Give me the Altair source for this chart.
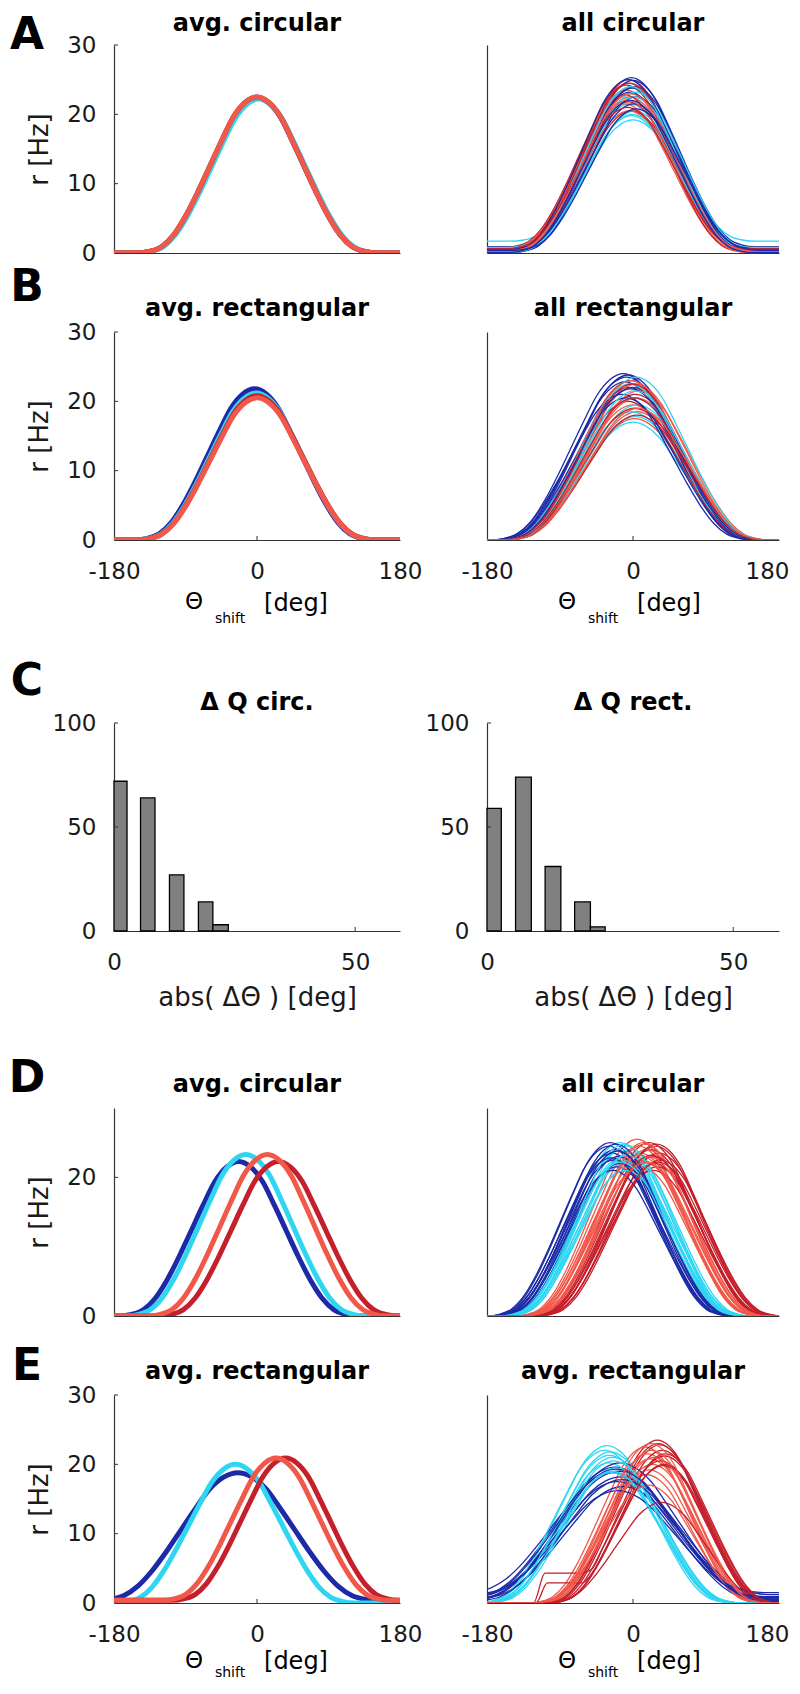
import altair as alt
import pandas as pd

FONT = "DejaVu Sans"
AXC = "#333333"

# ---------------- shared tuning-curve profile (avg.) -------------
TEMPLATE_OFFSETS = [0, 15, 30, 45, 60, 75, 90, 105, 120, 135, 150, 165, 180,
                    210, 240, 270, 300, 330, 360]
TEMPLATE_SHAPE = [1.0, 0.965, 0.87, 0.715, 0.55, 0.385, 0.235, 0.115, 0.04, 0.01, 0.0, 0.0, 0.0,
                  0.0, 0.0, 0.0, 0.0, 0.0, 0.0]
FLOOR_REACH = 150  # left-side plateaus (panel E, right) start this far from the peak

GROUPS = ["blue", "cyan", "darkred", "salmon"]
GROUP_COLORS = ["#1c2aa8", "#2fd6f2", "#c41f2b", "#f2584a"]

# ---------------- averaged curves (order: blue, cyan, darkred, salmon) --------------
A_AVG_CENTER = [0, 2, 0, 0]
A_AVG_PEAK = [22.4, 22.2, 22.5, 22.5]
B_AVG_CENTER = [-3, -1, 0, 0]
B_AVG_PEAK = [21.8, 21.2, 20.8, 20.5]
D_AVG_CENTER = [-23, -14, 27, 13]
D_AVG_PEAK = [22.3, 23.3, 22.3, 23.3]
E_AVG_CENTER = [-24, -27, 36, 24]
E_AVG_PEAK = [18.8, 20.0, 20.9, 20.9]
E_AVG_BASE = [0.3, 0.0, 0.4, 0.4]
E_AVG_WIDTH = [1.2, 1.0, 0.95, 0.95]

# ---------------- individual curves ---------------------------------------------------
A_ALL_BLUE_C = [-2, 0, 2, -4, 3, -6, 1, -1, 4, -3]
A_ALL_BLUE_A = [25.3, 24.9, 24.0, 23.2, 22.5, 25.0, 21.5, 23.8, 20.8, 22.0]
A_ALL_BLUE_B = [0.3, 0.9, 0.2, 0.5, 0.1, 0.3, 0.6, 0.2, 0.4, 0.1]
A_ALL_CYAN_C = [0, -2, 2, -4, 1, 3, -1, -3]
A_ALL_CYAN_A = [19.2, 19.8, 20.5, 21.5, 22.5, 23.2, 20.0, 24.0]
A_ALL_CYAN_B = [1.7, 0.4, 0.2, 0.8, 0.3, 0.5, 0.1, 0.2]
A_ALL_DRED_C = [-5, -8, -3, -6, -10, -2, -4, -7]
A_ALL_DRED_A = [25.0, 24.2, 23.0, 21.8, 22.8, 20.5, 24.5, 21.0]
A_ALL_DRED_B = [0.3, 0.8, 0.2, 0.5, 0.1, 0.4, 0.2, 0.6]
A_ALL_SALM_C = [-6, -8, -4, -10, -2, -5, -7, -3]
A_ALL_SALM_A = [24.5, 23.5, 22.5, 21.5, 24.0, 20.5, 22.0, 23.0]
A_ALL_SALM_B = [0.2, 0.6, 0.1, 0.3, 0.2, 0.4, 0.1, 0.3]

B_ALL_BLUE_C = [-12, -8, -10, -5, -14, -6, -9, -3]
B_ALL_BLUE_A = [24.0, 23.5, 22.8, 22.0, 21.0, 23.8, 20.5, 21.8]
B_ALL_CYAN_C = [0, 3, -2, 5, 1, -4, 4, 2]
B_ALL_CYAN_A = [17.0, 17.8, 18.5, 19.5, 20.5, 22.5, 23.5, 21.5]
B_ALL_DRED_C = [-3, 0, 3, -6, 2, 5, -1, 1]
B_ALL_DRED_A = [23.0, 22.0, 21.0, 20.0, 19.0, 18.0, 22.5, 20.5]
B_ALL_SALM_C = [2, 5, 0, 4, 7, 3, -2, 6]
B_ALL_SALM_A = [17.5, 18.5, 19.5, 20.5, 21.5, 22.5, 23.0, 19.0]
B_ALL_WIDTH = 1.08

D_ALL_BLUE_C = [-30, -28, -26, -24, -22, -20, -18, -16, -25, -21, -27, -19]
D_ALL_BLUE_A = [24.5, 25.0, 23.5, 22.5, 24.0, 21.5, 23.0, 22.0, 21.0, 24.8, 22.8, 23.8]
D_ALL_CYAN_C = [-16, -14, -12, -10, -8, -6, -4, -13, -9, -11, -7, -15]
D_ALL_CYAN_A = [25.0, 24.0, 23.0, 22.0, 24.5, 21.5, 23.5, 22.5, 21.0, 24.8, 23.2, 22.2]
D_ALL_DRED_C = [20, 22, 24, 26, 28, 30, 32, 34, 25, 29, 23, 31]
D_ALL_DRED_A = [25.0, 24.0, 23.0, 22.0, 24.5, 21.5, 23.5, 22.5, 21.0, 24.8, 23.2, 22.2]
D_ALL_SALM_C = [5, 7, 9, 11, 13, 15, 17, 19, 10, 14, 8, 16]
D_ALL_SALM_A = [25.5, 24.5, 23.5, 22.5, 25.0, 22.0, 24.0, 23.0, 21.5, 24.8, 23.2, 22.2]

E_ALL_BLUE_C = [-22, -18, -15, -20, -12, -25, -16, -19, -14, -21]
E_ALL_BLUE_A = [19.6, 19.0, 18.2, 17.5, 16.8, 18.8, 20.2, 16.2, 17.8, 19.3]
E_ALL_BLUE_B = [0.8, 0.5, 1.2, 0.3, 0.6, 1.5, 0.4, 0.9, 0.2, 0.7]
E_ALL_CYAN_C = [-32, -28, -25, -30, -22, -27, -35, -24, -29, -26]
E_ALL_CYAN_A = [22.7, 21.8, 21.0, 20.2, 19.5, 18.8, 22.0, 20.5, 21.3, 19.0]
E_ALL_DRED_C = [30, 33, 36, 39, 34, 37, 31, 40, 35, 38]
E_ALL_DRED_A = [23.5, 22.8, 22.0, 21.2, 20.5, 19.8, 23.0, 21.5, 14.5, 20.0]
E_ALL_DRED_FLOOR = [0, 0, 0, 0, 4.3, 2.9, 0, 0, 0, 0]
E_ALL_SALM_C = [15, 18, 21, 24, 20, 17, 23, 26, 19, 22]
E_ALL_SALM_A = [22.5, 21.5, 20.8, 20.0, 19.2, 18.5, 22.0, 21.0, 17.0, 23.0]
E_ALL_WIDTH = [1.25, 1.05, 0.95, 0.95]

# ---------------- histograms (panel C) ----------------------------------------------
C_CIRC_LO = [0, 5.5, 11.5, 17.5, 20.5]
C_CIRC_HI = [2.7, 8.5, 14.5, 20.5, 23.7]
C_CIRC_N = [72, 64, 27, 14, 3]
C_RECT_LO = [0, 5.8, 11.8, 17.8, 21.0]
C_RECT_HI = [2.9, 9.0, 15.0, 21.0, 24.0]
C_RECT_N = [59, 74, 31, 14, 2]

X_TICKS = [-180, 0, 180]

# ---------------- helpers -------------------------------------------------------------
OFFS = [-o for o in TEMPLATE_OFFSETS[::-1]] + TEMPLATE_OFFSETS[1:]
SHAPE = TEMPLATE_SHAPE[::-1] + TEMPLATE_SHAPE[1:]


def curve(cid, grp, c, a, b=0.0, w=1.0, floor=0.0):
    rows = []
    for o, s in zip(OFFS, SHAPE):
        r = b + (a - b) * s
        if floor and -FLOOR_REACH <= o < 0 and r < floor:
            r = floor
        rows.append({"theta": c + w * o, "r": r, "grp": grp, "cid": cid})
    return rows


def avg_df(centers, peaks, bases=None, widths=None):
    rows = []
    for i, g in enumerate(GROUPS):
        b = bases[i] if bases else 0.0
        w = widths[i] if widths else 1.0
        rows += curve(f"{i}_{g}", g, centers[i], peaks[i], b, w)
    return pd.DataFrame(rows)


def all_df(spec):
    rows = []
    n = max(len(s[0]) for s in spec)
    for i in range(n):
        for gi, g in enumerate(GROUPS):
            cs, ps, bs, w, fl = spec[gi]
            if i < len(cs):
                rows += curve(f"{i:02d}_{gi}", g, cs[i], ps[i],
                              bs[i] if bs else 0.0, w,
                              fl[i] if fl else 0.0)
    return pd.DataFrame(rows)


MINUS_FIX = "replace(datum.label, '\u2212', '-')"
H = 208
WL, WR = 286, 292
LETTER_X = -87


def text_layer(txt, x, y, size, bold=False, align="center"):
    return alt.Chart(pd.DataFrame({"t": [txt]})).mark_text(
        font=FONT, fontSize=size, fontWeight="bold" if bold else "normal",
        align=align, baseline="middle", color="black").encode(
        text="t:N", x=alt.value(x), y=alt.value(y))


def line_panel(df, width, title, thick, yvals, ylabels, xlabels,
               letter=None, letter_y=0, xtitle=None, title_y=-23, right_edge=False):
    xs = alt.Scale(domain=[-180, 180], nice=False, zero=False)
    ys = alt.Scale(domain=[0, 30], nice=False)
    xkw = {}
    if right_edge:
        xkw["labelAlign"] = {"condition": {"test": "datum.value == 180", "value": "right"},
                             "value": "center"}
        xkw["labelOffset"] = {"condition": {"test": "datum.value == 180", "value": 10},
                              "value": 0}
    x_axis = alt.Axis(values=X_TICKS, labels=xlabels, title=None, labelPadding=20,
                      labelExpr=MINUS_FIX, labelFlush=False, **xkw)
    if ylabels:
        y_axis = alt.Axis(values=yvals, title="r [Hz]", labelPadding=18, titleX=-75,
                          titleY=H / 2, titleAngle=-90, titleBaseline="middle",
                          titleAlign="center", labelFlush=False)
    else:
        y_axis = alt.Axis(values=[], labels=False, title=None)
    lines = alt.Chart(df).mark_line(
        strokeWidth=5 if thick else 1.3, clip=True, interpolate="monotone").encode(
        x=alt.X("theta:Q", scale=xs, axis=x_axis),
        y=alt.Y("r:Q", scale=ys, axis=y_axis),
        color=alt.Color("grp:N", scale=alt.Scale(domain=GROUPS, range=GROUP_COLORS),
                        legend=None),
        detail="cid:N")
    layers = [lines]
    if ylabels:
        layers.append(alt.Chart(pd.DataFrame({"v": [v for v in yvals if v > 0]}))
                      .mark_rule(color=AXC, strokeWidth=1).encode(
            y=alt.Y("v:Q", scale=ys, axis=y_axis), x=alt.value(0), x2=alt.value(4)))
    if xlabels:
        layers.append(alt.Chart(pd.DataFrame({"v": [0]}))
                      .mark_rule(color=AXC, strokeWidth=1).encode(
            x=alt.X("v:Q", scale=xs, axis=x_axis), y=alt.value(H), y2=alt.value(H - 4)))
    layers.append(text_layer(title, width / 2, title_y, 24, bold=True))
    if letter:
        layers.append(text_layer(letter, LETTER_X, letter_y, 44, bold=True))
    if xtitle:
        ty, sy, dy = xtitle
        layers.append(text_layer("\u0398", 80, H + ty, 23))
        layers.append(text_layer("shift", 116, H + sy, 14))
        layers.append(text_layer("[deg]", 182, H + dy, 24))
    return alt.layer(*layers).properties(width=width, height=H)


def hist_panel(lo, hi, n, width, title, letter=None, letter_y=0):
    df = pd.DataFrame({"lo": lo, "hi": hi, "n": n, "z": [0] * len(n)})
    xs = alt.Scale(domain=[0, 59.3], nice=False, zero=False)
    ys = alt.Scale(domain=[0, 100], nice=False)
    x_axis = alt.Axis(values=[0, 50], title="abs( \u0394\u0398 ) [deg]", labelPadding=20,
                      titleX=width / 2, titleY=66, titleBaseline="middle",
                      titleAlign="center", labelFlush=False)
    y_axis = alt.Axis(values=[0, 50, 100], title=None, labelPadding=18, labelFlush=False)
    bars = alt.Chart(df).mark_rect(fill="#808080", stroke="black", strokeWidth=1.3).encode(
        x=alt.X("lo:Q", scale=xs, axis=x_axis),
        x2="hi:Q",
        y=alt.Y("n:Q", scale=ys, axis=y_axis),
        y2="z:Q")
    layers = [bars,
              alt.Chart(pd.DataFrame({"v": [50, 100]})).mark_rule(color=AXC, strokeWidth=1)
              .encode(y=alt.Y("v:Q", scale=ys, axis=y_axis), x=alt.value(0), x2=alt.value(4)),
              alt.Chart(pd.DataFrame({"v": [50]})).mark_rule(color=AXC, strokeWidth=1)
              .encode(x=alt.X("v:Q", scale=xs, axis=x_axis), y=alt.value(H), y2=alt.value(H - 4)),
              text_layer(title, width / 2, -20, 24, bold=True)]
    if letter:
        layers.append(text_layer(letter, LETTER_X, letter_y, 44, bold=True))
    return alt.layer(*layers).properties(width=width, height=H)


def spacer(width, height):
    return alt.Chart(pd.DataFrame({"v": [0]})).mark_point(opacity=0).encode(
        x=alt.value(0), y=alt.value(0)).properties(width=width, height=height)


# ---------------- data frames -----------------------------------------------------------
dfA_avg = avg_df(A_AVG_CENTER, A_AVG_PEAK)
dfB_avg = avg_df(B_AVG_CENTER, B_AVG_PEAK)
dfD_avg = avg_df(D_AVG_CENTER, D_AVG_PEAK)
dfE_avg = avg_df(E_AVG_CENTER, E_AVG_PEAK, E_AVG_BASE, E_AVG_WIDTH)

dfA_all = all_df([(A_ALL_BLUE_C, A_ALL_BLUE_A, A_ALL_BLUE_B, 1.0, None),
                  (A_ALL_CYAN_C, A_ALL_CYAN_A, A_ALL_CYAN_B, 1.0, None),
                  (A_ALL_DRED_C, A_ALL_DRED_A, A_ALL_DRED_B, 1.0, None),
                  (A_ALL_SALM_C, A_ALL_SALM_A, A_ALL_SALM_B, 1.0, None)])
dfB_all = all_df([(B_ALL_BLUE_C, B_ALL_BLUE_A, None, B_ALL_WIDTH, None),
                  (B_ALL_CYAN_C, B_ALL_CYAN_A, None, B_ALL_WIDTH, None),
                  (B_ALL_DRED_C, B_ALL_DRED_A, None, B_ALL_WIDTH, None),
                  (B_ALL_SALM_C, B_ALL_SALM_A, None, B_ALL_WIDTH, None)])
dfD_all = all_df([(D_ALL_BLUE_C, D_ALL_BLUE_A, None, 1.0, None),
                  (D_ALL_CYAN_C, D_ALL_CYAN_A, None, 1.0, None),
                  (D_ALL_DRED_C, D_ALL_DRED_A, None, 1.0, None),
                  (D_ALL_SALM_C, D_ALL_SALM_A, None, 1.0, None)])
dfE_all = all_df([(E_ALL_BLUE_C, E_ALL_BLUE_A, E_ALL_BLUE_B, E_ALL_WIDTH[0], None),
                  (E_ALL_CYAN_C, E_ALL_CYAN_A, None, E_ALL_WIDTH[1], None),
                  (E_ALL_DRED_C, E_ALL_DRED_A, None, E_ALL_WIDTH[2], E_ALL_DRED_FLOOR),
                  (E_ALL_SALM_C, E_ALL_SALM_A, None, E_ALL_WIDTH[3], None)])

# ---------------- panels ------------------------------------------------------------------
Y30 = [0, 10, 20, 30]
XT_B = (62, 79, 64)
XT_E = (58, 70, 59)
pA1 = line_panel(dfA_avg, WL, "avg. circular", True, Y30, True, False, "A", -9, title_y=-21)
pA2 = line_panel(dfA_all, WR, "all circular", False, Y30, False, False, title_y=-21)
pB1 = line_panel(dfB_avg, WL, "avg. rectangular", True, Y30, True, True, "B", -44, XT_B)
pB2 = line_panel(dfB_all, WR, "all rectangular", False, Y30, False, True, None, 0, XT_B,
                 right_edge=True)
pC1 = hist_panel(C_CIRC_LO, C_CIRC_HI, C_CIRC_N, WL, "\u0394 Q circ.", "C", -41)
pC2 = hist_panel(C_RECT_LO, C_RECT_HI, C_RECT_N, WR, "\u0394 Q rect.")
pD1 = line_panel(dfD_avg, WL, "avg. circular", True, [0, 20], True, False, "D", -29)
pD2 = line_panel(dfD_all, WR, "all circular", False, [0, 20], False, False)
pE1 = line_panel(dfE_avg, WL, "avg. rectangular", True, Y30, True, True, "E", -28, XT_E)
pE2 = line_panel(dfE_all, WR, "avg. rectangular", False, Y30, False, True, None, 0, XT_E,
                 right_edge=True)

panels = [pA1, pA2, pB1, pB2,
          spacer(WL, 25), spacer(WR, 25),
          pC1, pC2,
          spacer(WL, 19), spacer(WR, 19),
          pD1, pD2, pE1, pE2]

chart = alt.concat(
    *panels, columns=2, spacing={"row": 79, "column": 87}, bounds="flush"
).properties(
    padding={"top": 4, "left": 0, "right": 0, "bottom": 0}, background="white"
).configure_axis(
    labelFont=FONT, labelFontSize=23, labelColor="#1a1a1a",
    titleFont=FONT, titleFontSize=26, titleFontWeight="normal", titleColor="#1a1a1a",
    domainColor=AXC, domainWidth=1.2, grid=False, ticks=False
).configure_view(stroke=None)

chart.save("out.html", embed_options={"renderer": "svg", "actions": False})
